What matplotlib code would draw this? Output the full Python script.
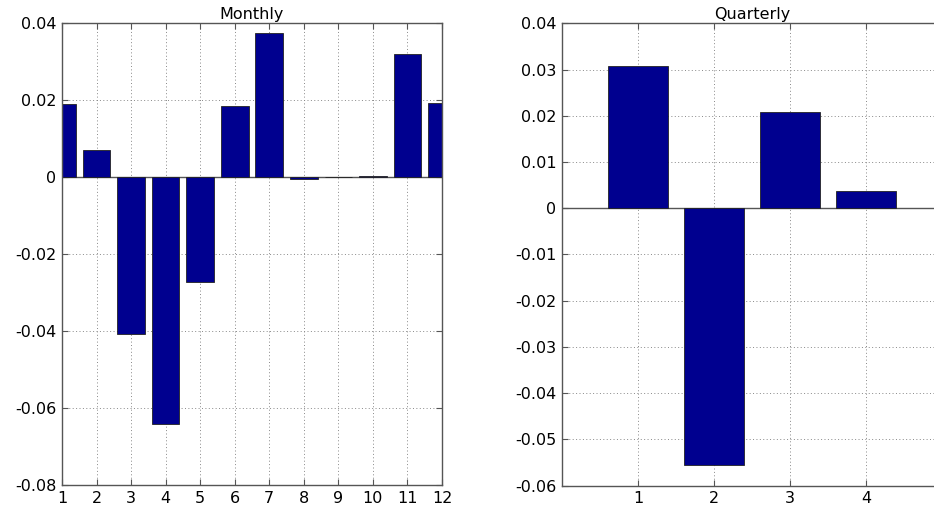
import numpy as np
import matplotlib.pyplot as plt

plt.rcParams['font.family'] = ['DejaVu Sans']

# monthly and quarterly values
months = np.arange(1, 13)
monthly = [0.0190, 0.0071, -0.0409, -0.0641, -0.0273, 0.0184,
           0.0374, -0.0004, -0.0001, 0.0002, 0.0319, 0.0192]
quarters = np.arange(1, 5)
quarterly = [0.0308, -0.0555, 0.0209, 0.0038]

bar_color = '#00008F'
W, H = 934, 511

fig = plt.figure(figsize=(W / 100, H / 100), dpi=100)
ax1 = fig.add_axes([62 / W, 1 - 485 / H, 380 / W, 462 / H])
ax2 = fig.add_axes([562 / W, 1 - 485.5 / H, 380 / W, 462 / H])


def style(ax):
    ax.grid(True, linestyle=(0, (1, 2.5)), color='#888888', linewidth=0.7)
    ax.set_axisbelow(True)
    for s in ax.spines.values():
        s.set_color('#555555')
        s.set_linewidth(1.0)
    ax.tick_params(direction='in', top=True, right=True, length=4,
                   labelsize=11.5, color='#555555', pad=4)
    ax.axhline(0, color='#555555', linewidth=1.0, zorder=1.5)


ax1.bar(months, monthly, width=0.8, color=bar_color, edgecolor='#222222',
        linewidth=0.6, zorder=2)
ax1.set_xlim(1, 12)
ax1.set_ylim(-0.08, 0.04)
ax1.set_xticks(months)
ax1.set_yticks(np.arange(-0.08, 0.041, 0.02))
ax1.set_yticklabels(['-0.08', '-0.06', '-0.04', '-0.02', '0', '0.02', '0.04'])
ax1.set_title('Monthly', fontsize=11.5, pad=3)
style(ax1)

ax2.bar(quarters, quarterly, width=0.8, color=bar_color, edgecolor='#222222',
        linewidth=0.6, zorder=2)
ax2.set_xlim(0, 5)
ax2.set_ylim(-0.06, 0.04)
ax2.set_xticks(quarters)
ax2.set_yticks(np.arange(-0.06, 0.041, 0.01))
ax2.set_yticklabels(['-0.06', '-0.05', '-0.04', '-0.03', '-0.02', '-0.01',
                     '0', '0.01', '0.02', '0.03', '0.04'])
ax2.set_title('Quarterly', fontsize=11.5, pad=3)
style(ax2)

fig.savefig('out.png', dpi=100)
